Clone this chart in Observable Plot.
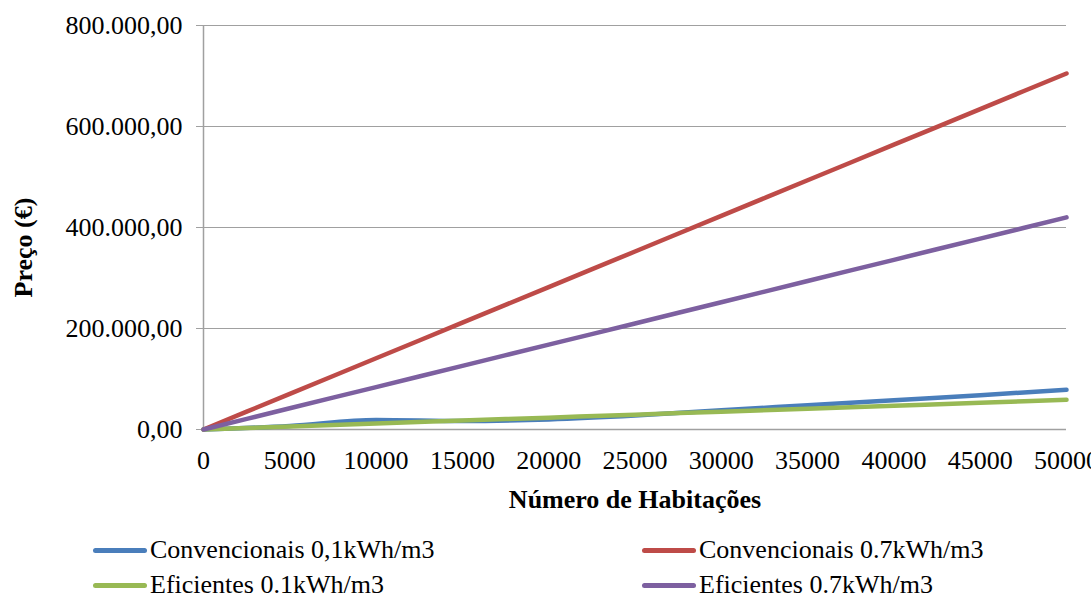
<!DOCTYPE html>
<html>
<head>
<meta charset="utf-8">
<script src="https://cdn.jsdelivr.net/npm/d3@7"></script>
<script src="https://cdn.jsdelivr.net/npm/@observablehq/plot@0.6"></script>
<style>
  html, body { margin: 0; padding: 0; background: #fff; }
  #wrap { position: relative; width: 1091px; height: 600px; overflow: hidden; font-family: "Liberation Serif", "Times New Roman", serif; }
  .leg { position: absolute; display: flex; align-items: center; font-size: 26px; line-height: 30px; color: #000; white-space: nowrap; }
  .sw { width: 54px; height: 5px; border-radius: 3px; margin-right: 3px; }
</style>
</head>
<body>
<div id="wrap"></div>
<script>
// Categories (x values: número de habitações)
const habitacoes = [0, 5000, 10000, 15000, 20000, 25000, 30000, 35000, 40000, 45000, 50000];
// Series (Preço €)
const convencionais01 = [0, 7000, 19000, 17000, 20000, 27500, 38000, 48000, 58000, 68000, 78600];
const convencionais07 = [0, 70500, 141000, 211500, 282000, 352500, 423000, 493500, 564000, 634500, 705000];
const eficientes01 = [0, 5900, 11800, 17700, 23500, 29400, 35300, 41200, 47000, 52900, 58800];
const eficientes07 = [0, 42000, 84000, 126000, 168000, 210000, 252000, 294000, 336000, 378000, 420000];
const seriesNames = ["Convencionais 0,1kWh/m3", "Convencionais 0.7kWh/m3", "Eficientes 0.1kWh/m3", "Eficientes 0.7kWh/m3"];
const seriesColors = ["#4a7ebb", "#be4b48", "#98b954", "#7d60a0"];
const yTicks = [0, 200000, 400000, 600000, 800000];
const xTicks = [0, 5000, 10000, 15000, 20000, 25000, 30000, 35000, 40000, 45000, 50000];

const seriesValues = [convencionais01, convencionais07, eficientes01, eficientes07];
const rows = [];
seriesNames.forEach((name, i) => {
  habitacoes.forEach((h, j) => rows.push({series: name, x: h, y: seriesValues[i][j]}));
});

const fmtY = d => {
  const s = d3.format(",.2f")(d); // 800,000.00
  return s.replace(/,/g, "#").replace(".", ",").replace(/#/g, ".");
};

const font = '"Liberation Serif", "Times New Roman", serif';
const gridColor = "#a0a0a0";

const chart = Plot.plot({
  width: 1091,
  height: 520,
  marginLeft: 203,
  marginRight: 25,
  marginTop: 25,
  marginBottom: 91,
  style: {fontFamily: font, fontSize: "26px", color: "#000", background: "#fff"},
  x: {domain: [0, 50000]},
  y: {domain: [0, 800000]},
  color: {domain: seriesNames, range: seriesColors},
  marks: [
    Plot.gridY(yTicks.slice(1), {stroke: gridColor, strokeOpacity: 1, strokeWidth: 1.2}),
    Plot.ruleX([0], {stroke: gridColor, strokeWidth: 1.5}),
    Plot.ruleY([0], {stroke: gridColor, strokeWidth: 1.5}),
    Plot.axisY(yTicks, {tickFormat: fmtY, tickSize: 7, tickPadding: 14, stroke: gridColor, label: null, fontSize: 26}),
    Plot.axisX(xTicks, {tickFormat: d => String(d), tickSize: 0, tickPadding: 21, label: null, fontSize: 26}),
    Plot.line(rows, {x: "x", y: "y", z: "series", stroke: "series", strokeWidth: 4.5, strokeLinecap: "round", strokeLinejoin: "round", curve: "monotone-x"}),
    Plot.text(["Número de Habitações"], {frameAnchor: "bottom", dy: 70, textAnchor: "middle", lineAnchor: "middle", fontWeight: "bold", fontSize: 26, fill: "#000"}),
    Plot.text(["Preço (€)"], {frameAnchor: "left", dx: -180, dy: 20, textAnchor: "middle", lineAnchor: "middle", rotate: -90, fontWeight: "bold", fontSize: 26, fill: "#000"})
  ]
});

const wrap = document.getElementById("wrap");
wrap.appendChild(chart);

// Legend below the SVG
const legPos = [
  {left: 93, top: 550},
  {left: 642, top: 550},
  {left: 93, top: 585},
  {left: 642, top: 585}
];
seriesNames.forEach((name, i) => {
  const d = document.createElement("div");
  d.className = "leg";
  d.style.left = legPos[i].left + "px";
  d.style.top = (legPos[i].top - 15) + "px";
  d.style.height = "30px";
  const sw = document.createElement("div");
  sw.className = "sw";
  sw.style.background = seriesColors[i];
  const t = document.createElement("span");
  t.textContent = name;
  d.appendChild(sw);
  d.appendChild(t);
  wrap.appendChild(d);
});
const svg = wrap.querySelector("svg");
svg.style.position = "absolute";
svg.style.left = "0";
svg.style.top = "0";
</script>
</body>
</html>
